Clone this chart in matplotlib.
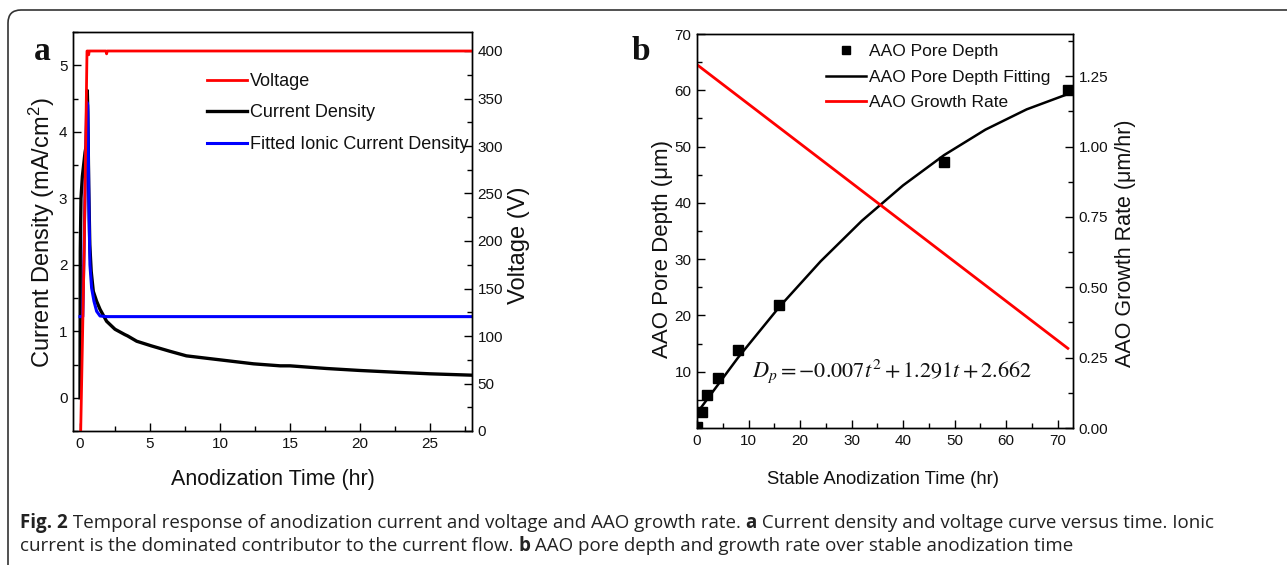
import matplotlib
matplotlib.use('Agg')
import matplotlib.pyplot as plt
from matplotlib.lines import Line2D
from matplotlib.patches import FancyBboxPatch
from matplotlib.ticker import MultipleLocator, FormatStrFormatter

# ---- panel a data ----
volt_t = [0.05, 0.30, 0.50, 0.58, 0.62, 0.66, 1.0, 1.85, 1.9, 1.95, 28.0]
volt_v = [0, 190, 400, 400, 396, 400, 400, 400, 397, 400, 400]

cur_t = [0.0, 0.02, 0.07, 0.17, 0.36, 0.45, 0.52, 0.56, 0.62, 0.70, 0.80, 0.95,
         1.19, 1.43, 1.9, 2.5, 3.2, 3.4, 4.05, 5.1, 6.4, 7.6, 10.0, 12.4, 14.3,
         15.0, 17.6, 20.0, 22.9, 25.0, 27.9]
cur_j = [0.0, 2.2, 3.0, 3.33, 3.69, 3.8, 4.62, 4.3, 3.2, 2.3, 1.9, 1.6,
         1.45, 1.33, 1.15, 1.03, 0.95, 0.93, 0.85, 0.78, 0.70, 0.63, 0.57, 0.51, 0.48,
         0.48, 0.44, 0.41, 0.38, 0.36, 0.34]

fit_t = [0.0, 0.2, 0.48, 0.55, 0.60, 0.65, 0.71, 0.83, 1.0, 1.19, 1.43, 1.9, 28.0]
fit_j = [1.22, 1.22, 4.45, 4.4, 3.6, 2.7, 2.0, 1.65, 1.45, 1.3, 1.23, 1.22, 1.22]

# ---- panel b data ----
depth_t = [0, 1, 2, 4, 8, 16, 48, 72]
depth = [0.2, 2.9, 5.8, 8.9, 13.9, 21.9, 47.3, 60.0]

fitd_t = [0, 8, 16, 24, 32, 40, 48, 56, 64, 72]
fitd = [2.66, 12.54, 21.53, 29.61, 36.81, 43.10, 48.50, 53.01, 56.61, 59.33]

rate_t = [0, 72]
rate = [1.291, 0.283]

plt.rcParams['font.family'] = ['Liberation Sans', 'DejaVu Sans']
plt.rcParams['mathtext.fontset'] = 'custom'
plt.rcParams['mathtext.rm'] = 'Liberation Sans'
plt.rcParams['mathtext.it'] = 'Liberation Sans:italic'
plt.rcParams['axes.linewidth'] = 1.0
plt.rcParams['text.color'] = '#111111'

W, H = 1287, 565
fig = plt.figure(figsize=(W / 100, H / 100), dpi=100)


def style_ticks(ax, size):
    ax.tick_params(which='both', direction='in', labelsize=size, top=False,
                   labelcolor='#111111', pad=4)
    ax.tick_params(which='major', length=6, width=1)
    ax.tick_params(which='minor', length=3.5, width=1)


def label_at(x, y, txt, size, rot=0):
    fig.text(x / W, 1 - y / H, txt, fontsize=size, rotation=rot,
             ha='center', va='center', rotation_mode='anchor')


# ---------------- panel a ----------------
ax1 = fig.add_axes([73 / W, 1 - 431 / H, 399 / W, 399 / H])
ax1.plot(cur_t, cur_j, color='black', lw=2.4)
ax1.plot(fit_t, fit_j, color='#0000ff', lw=2.2)
ax1.set_xlim(-0.5, 28)
ax1.set_ylim(-0.5, 5.5)
ax1.xaxis.set_major_locator(MultipleLocator(5))
ax1.xaxis.set_minor_locator(MultipleLocator(2.5))
ax1.yaxis.set_major_locator(MultipleLocator(1))
ax1.yaxis.set_minor_locator(MultipleLocator(0.5))
style_ticks(ax1, 11)

ax1r = ax1.twinx()
ax1r.plot(volt_t, volt_v, color='#ff0000', lw=2.0)
ax1r.set_ylim(0, 420)
ax1r.yaxis.set_major_locator(MultipleLocator(50))
ax1r.yaxis.set_minor_locator(MultipleLocator(25))
style_ticks(ax1r, 11)

label_at(273, 479, 'Anodization Time (hr)', 15.5)
label_at(42, 233, 'Current Density (mA/cm$^2$)', 17, 90)
label_at(519, 245, 'Voltage (V)', 17, 90)

handles_a = [Line2D([], [], color='#ff0000', lw=2.0),
             Line2D([], [], color='black', lw=2.4),
             Line2D([], [], color='#0000ff', lw=2.2)]
labels_a = ['Voltage', 'Current Density', 'Fitted Ionic Current Density']
ax1r.legend(handles_a, labels_a, loc='upper left', bbox_to_anchor=(207 / W, 1 - 73 / H),
            bbox_transform=fig.transFigure, frameon=False, fontsize=13,
            borderpad=0, borderaxespad=0, handlelength=2.2, handletextpad=0.2,
            labelspacing=0.8)

# ---------------- panel b ----------------
ax2 = fig.add_axes([697 / W, 1 - 428 / H, 376 / W, 394 / H])
ax2.plot(fitd_t, fitd, color='black', lw=1.8)
ax2.plot(depth_t, depth, ls='none', marker='s', ms=7, color='black')
ax2.set_xlim(0, 73)
ax2.set_ylim(0, 70)
ax2.xaxis.set_major_locator(MultipleLocator(10))
ax2.xaxis.set_minor_locator(MultipleLocator(5))
ax2.yaxis.set_minor_locator(MultipleLocator(5))
ax2.set_yticks([10, 20, 30, 40, 50, 60, 70])
style_ticks(ax2, 11)
ax2.text(0.147, 0.145, r'$D_p = -0.007t^2 + 1.291t + 2.662$', transform=ax2.transAxes,
         fontsize=16, math_fontfamily='stix', va='center', ha='left')

ax2r = ax2.twinx()
ax2r.plot(rate_t, rate, color='#ff0000', lw=2.0)
ax2r.set_ylim(0, 1.4)
ax2r.yaxis.set_major_locator(MultipleLocator(0.25))
ax2r.yaxis.set_minor_locator(MultipleLocator(0.125))
ax2r.yaxis.set_major_formatter(FormatStrFormatter('%.2f'))
style_ticks(ax2r, 11)

label_at(883, 479, 'Stable Anodization Time (hr)', 13.3)
label_at(662, 249, 'AAO Pore Depth (\u03bcm)', 16, 90)
label_at(1125, 243, 'AAO Growth Rate (\u03bcm/hr)', 15.5, 90)

handles_b = [Line2D([], [], ls='none', marker='s', ms=6, color='black'),
             Line2D([], [], color='black', lw=1.8),
             Line2D([], [], color='#ff0000', lw=2.0)]
labels_b = ['AAO Pore Depth', 'AAO Pore Depth Fitting', 'AAO Growth Rate']
ax2r.legend(handles_b, labels_b, loc='upper left', bbox_to_anchor=(826 / W, 1 - 44 / H),
            bbox_transform=fig.transFigure, frameon=False, fontsize=12.5,
            borderpad=0, borderaxespad=0, handlelength=2.3, handletextpad=0.15,
            labelspacing=0.6)

# panel letters
fig.text(34 / W, 1 - 60 / H, 'a', fontsize=24, fontweight='bold', family='Liberation Serif')
fig.text(632 / W, 1 - 60 / H, 'b', fontsize=24, fontweight='bold', family='Liberation Serif')

# rounded frame
frame = FancyBboxPatch((0.08, -0.5), 14.0, 6.05, boxstyle='round,pad=0,rounding_size=0.13',
                       transform=fig.dpi_scale_trans, fill=False, edgecolor='#333333',
                       lw=1.2, clip_on=False)
fig.add_artist(frame)

# caption
cap1 = [('Fig. 2', True),
        (' Temporal response of anodization current and voltage and AAO growth rate. ', False),
        ('a', True),
        (' Current density and voltage curve versus time. Ionic', False)]
cap2 = [('current is the dominated contributor to the current flow. ', False),
        ('b', True),
        (' AAO pore depth and growth rate over stable anodization time', False)]

fig.canvas.draw()
renderer = fig.canvas.get_renderer()


def caption_line(parts, x0, y0):
    x = x0
    for txt, bold in parts:
        t = fig.text(x / W, 1 - y0 / H, txt, fontsize=13.5, family='Open Sans',
                     fontweight='bold' if bold else 'normal', color='#222222',
                     va='baseline', ha='left')
        x += t.get_window_extent(renderer=renderer).width


caption_line(cap1, 20, 528)
caption_line(cap2, 20, 551)

fig.savefig('out.png', dpi=100)
